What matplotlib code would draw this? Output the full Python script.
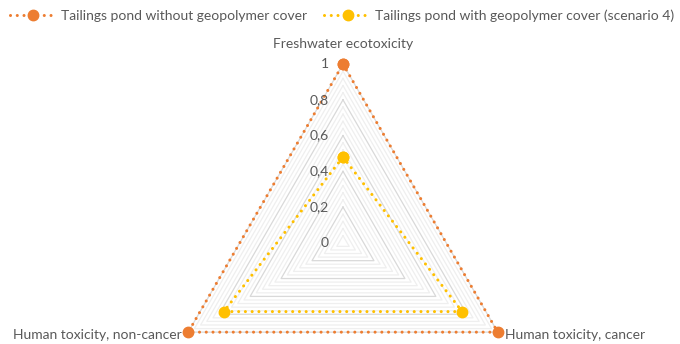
import numpy as np
import matplotlib.pyplot as plt

categories = ['Freshwater ecotoxicity', 'Human toxicity, cancer', 'Human toxicity, non-cancer']
no_cover = [1.0, 1.0, 1.0]
with_cover = [0.48, 0.77, 0.77]
tick_values = [0, 0.2, 0.4, 0.6, 0.8, 1]
tick_labels = ['0', '0,2', '0,4', '0,6', '0,8', '1']

plt.rcParams['font.family'] = ['Lato', 'DejaVu Sans']
grey = '#595959'
orange = '#ED7D31'
yellow = '#FFC000'

fig = plt.figure(figsize=(6.8, 3.44), dpi=100)
ax = fig.add_axes([0.2416, -0.2253, 0.5256, 1.0390], projection='polar')
ax.set_theta_zero_location('N')
ax.set_theta_direction(-1)
ax.set_ylim(0, 1)
ax.grid(False)
ax.set_xticks([])
ax.set_yticks([])
ax.spines['polar'].set_visible(False)
ax.patch.set_alpha(0)

angles = np.linspace(0, 2 * np.pi, len(categories), endpoint=False)
closed = np.append(angles, angles[0])

# triangular grid: light minor rings, slightly darker every 0.2
for r in np.arange(0.04, 1.001, 0.04):
    major = abs(r / 0.2 - round(r / 0.2)) < 1e-6
    ax.plot(closed, [r] * len(closed), color='#d9d9d9' if major else '#efefef',
            lw=0.9, zorder=1, clip_on=False)

def series(vals, color, label):
    v = np.append(vals, vals[0])
    ax.plot(closed, v, color=color, lw=2.2, ls=(0, (0.01, 2.2)),
            dash_capstyle='round', marker='o', ms=7.5, label=label,
            zorder=3, clip_on=False)

series(no_cover, orange, 'Tailings pond without geopolymer cover')
series(with_cover, yellow, 'Tailings pond with geopolymer cover (scenario 4)')

for val, lab in zip(tick_values, tick_labels):
    ax.annotate(lab, xy=(0, val), xytext=(-10, 0), textcoords='offset points',
                ha='right', va='center', fontsize=10, color=grey)

ax.annotate(categories[0], xy=(angles[0], 1), xytext=(0, 10), textcoords='offset points',
            ha='center', va='bottom', fontsize=10, color=grey, annotation_clip=False)
ax.annotate(categories[1], xy=(angles[1], 1), xytext=(5, -2), textcoords='offset points',
            ha='left', va='center', fontsize=10, color=grey, annotation_clip=False)
ax.annotate(categories[2], xy=(angles[2], 1), xytext=(-5, -2), textcoords='offset points',
            ha='right', va='center', fontsize=10, color=grey, annotation_clip=False)

leg = fig.legend(loc='upper left', bbox_to_anchor=(0.0, 1.0), ncol=2, frameon=False,
                 fontsize=10, handlelength=3.4, handletextpad=0.3, columnspacing=1.2,
                 borderaxespad=0.3)
for t in leg.get_texts():
    t.set_color(grey)

fig.savefig('out.png', dpi=100)
